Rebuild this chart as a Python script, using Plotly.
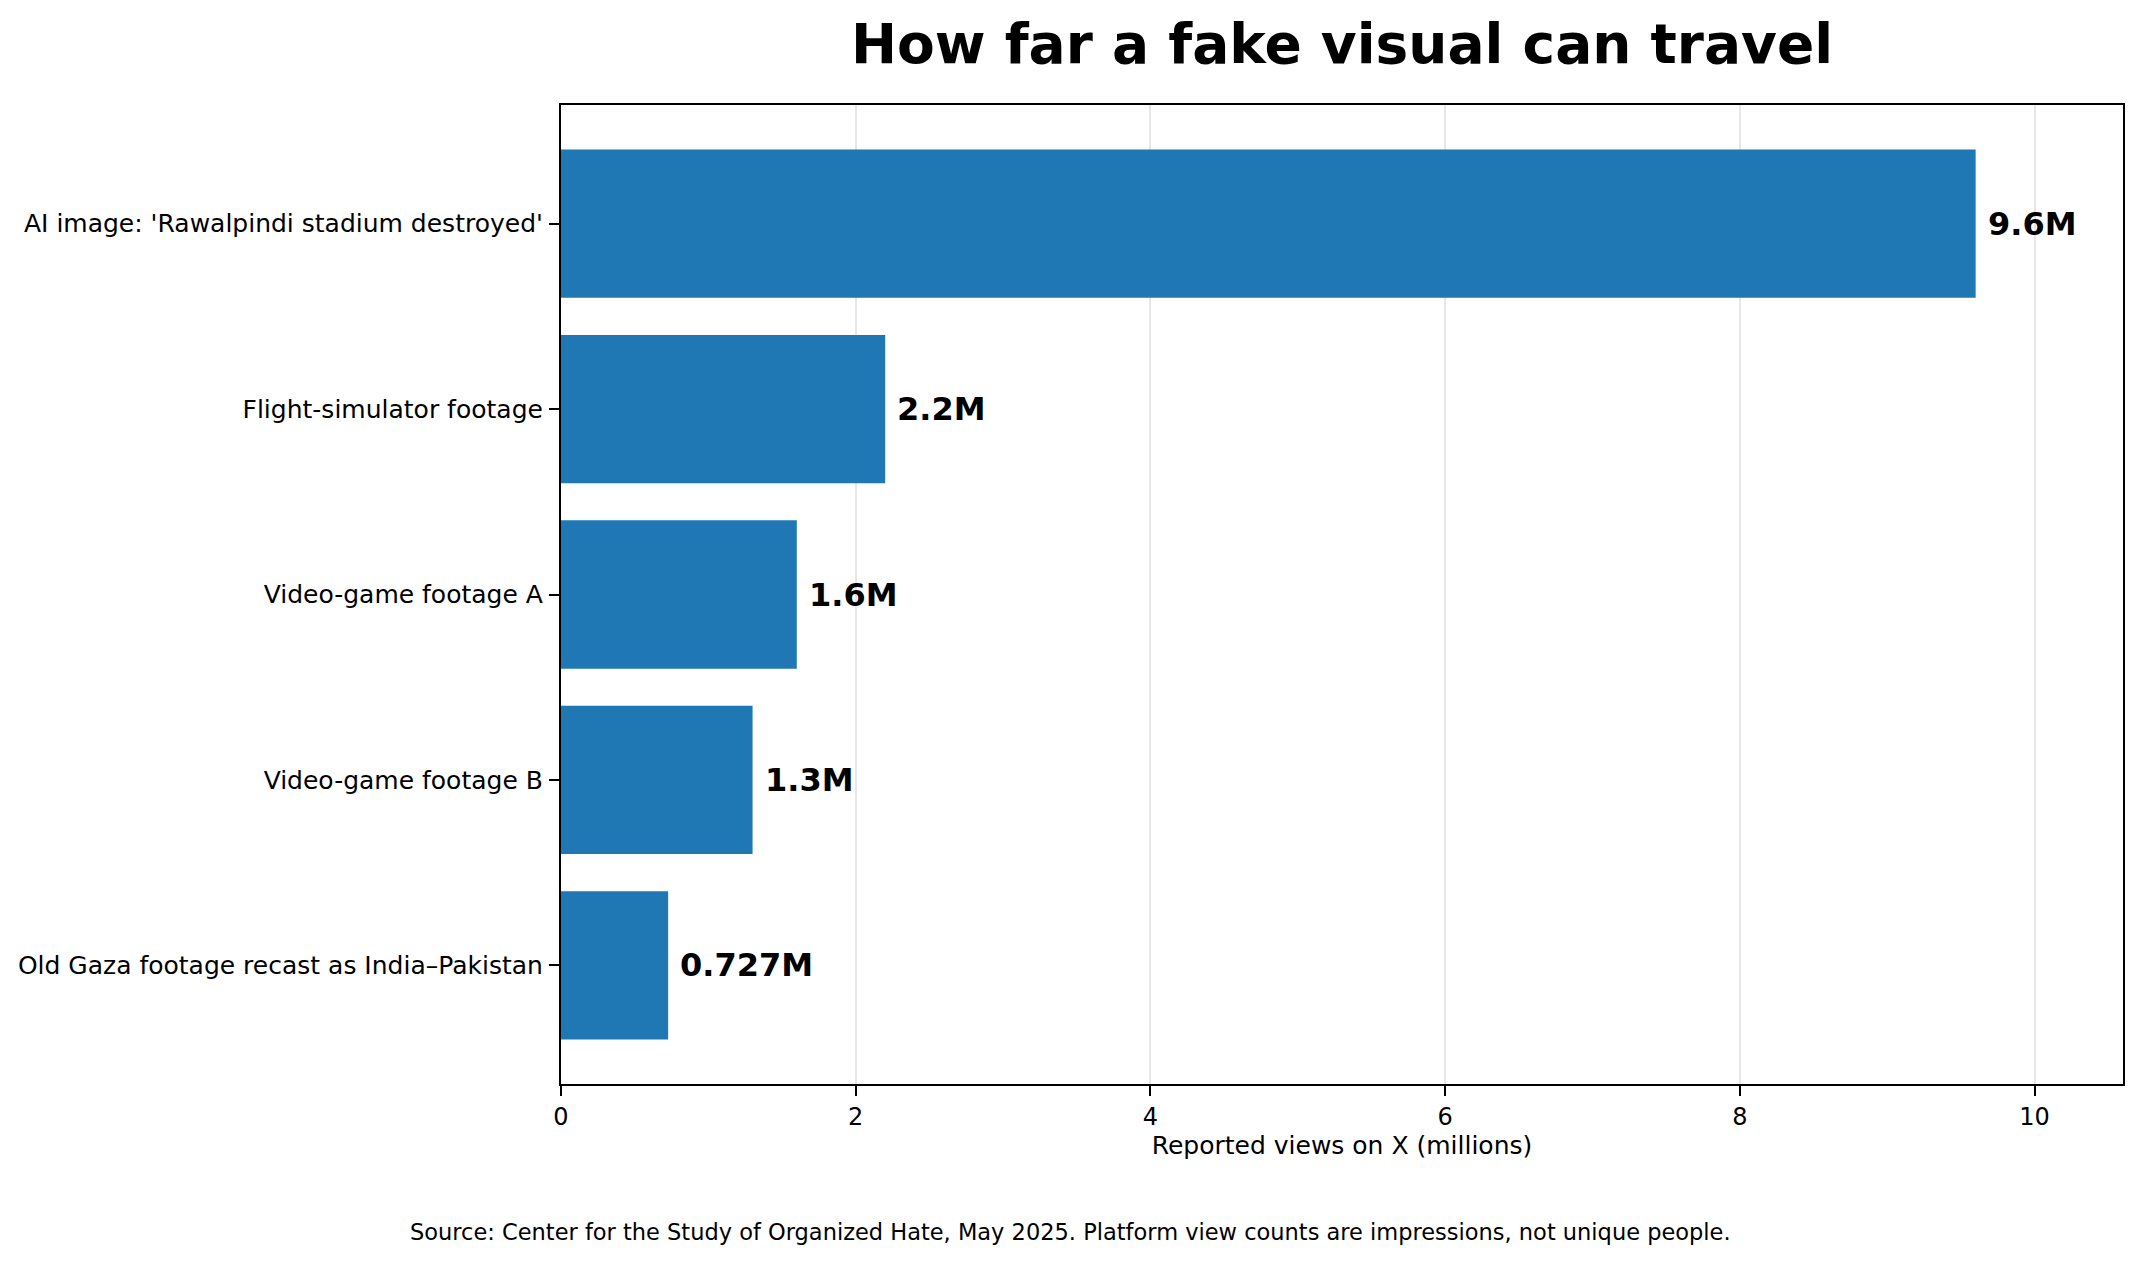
import plotly.graph_objects as go

# Dados (ordem de cima para baixo)
categorias = [
    "AI image: 'Rawalpindi stadium destroyed'",
    "Flight-simulator footage",
    "Video-game footage A",
    "Video-game footage B",
    "Old Gaza footage recast as India–Pakistan",
]
visualizacoes = [9.6, 2.2, 1.6, 1.3, 0.727]
rotulos = ["9.6M", "2.2M", "1.6M", "1.3M", "0.727M"]
ticks_x = [0, 2, 4, 6, 8, 10]

titulo = "How far a fake visual can travel"
titulo_x = "Reported views on X (millions)"
fonte = "Source: Center for the Study of Organized Hate, May 2025. Platform view counts are impressions, not unique people."

W, H = 2141, 1262
ml, mr, mt, mb = 553, 26, 97, 186
FONTE = "DejaVu Sans"

fig = go.Figure()

fig.add_trace(go.Bar(
    x=visualizacoes,
    y=categorias,
    orientation="h",
    width=0.8,
    marker=dict(color="#1f77b4", line=dict(width=0)),
    hoverinfo="x+y",
))

# Rótulos de valor ao lado das barras
for cat, v, txt in zip(categorias, visualizacoes, rotulos):
    fig.add_annotation(
        x=v, y=cat, text=f"<b>{txt}</b>",
        xanchor="left", yanchor="middle", xshift=10,
        showarrow=False,
        font=dict(family=FONTE, size=32, color="black"),
    )

# Nota de fonte
fig.add_annotation(
    xref="paper", yref="paper",
    x=(W / 2 - 8 - ml) / (W - ml - mr), y=-(1224 - (H - mb)) / (H - mt - mb),
    text=fonte, showarrow=False,
    xanchor="center", yanchor="middle",
    font=dict(family=FONTE, size=22.5, color="black"),
)

fig.update_layout(
    width=W, height=H,
    margin=dict(l=ml, r=mr, t=mt, b=mb, autoexpand=False),
    paper_bgcolor="white",
    plot_bgcolor="white",
    showlegend=False,
    title=dict(
        text=f"<b>{titulo}</b>",
        x=0.5, xref="paper", xanchor="center",
        y=1 - 36 / H, yref="container", yanchor="middle",
        font=dict(family=FONTE, size=55, color="black"),
    ),
    xaxis=dict(
        range=[0, 10.6],
        tickvals=ticks_x,
        ticks="outside", ticklen=10, tickwidth=2.2, tickcolor="black",
        tickfont=dict(family=FONTE, size=24, color="black"),
        showgrid=True, gridcolor="rgba(176,176,176,0.3)", gridwidth=2.2,
        zeroline=False,
        showline=True, linecolor="black", linewidth=2.2, mirror=True,
        layer="above traces",
        title=dict(text=titulo_x, standoff=7,
                   font=dict(family=FONTE, size=25, color="black")),
    ),
    yaxis=dict(
        categoryorder="array", categoryarray=categorias,
        range=[4.64, -0.64],
        ticks="outside", ticklen=10, tickwidth=2.2, tickcolor="black",
        tickfont=dict(family=FONTE, size=25, color="black"),
        ticklabelstandoff=1,
        showgrid=False, zeroline=False,
        showline=True, linecolor="black", linewidth=2.2, mirror=True,
        layer="above traces",
    ),
)

fig.write_html("out.html")
